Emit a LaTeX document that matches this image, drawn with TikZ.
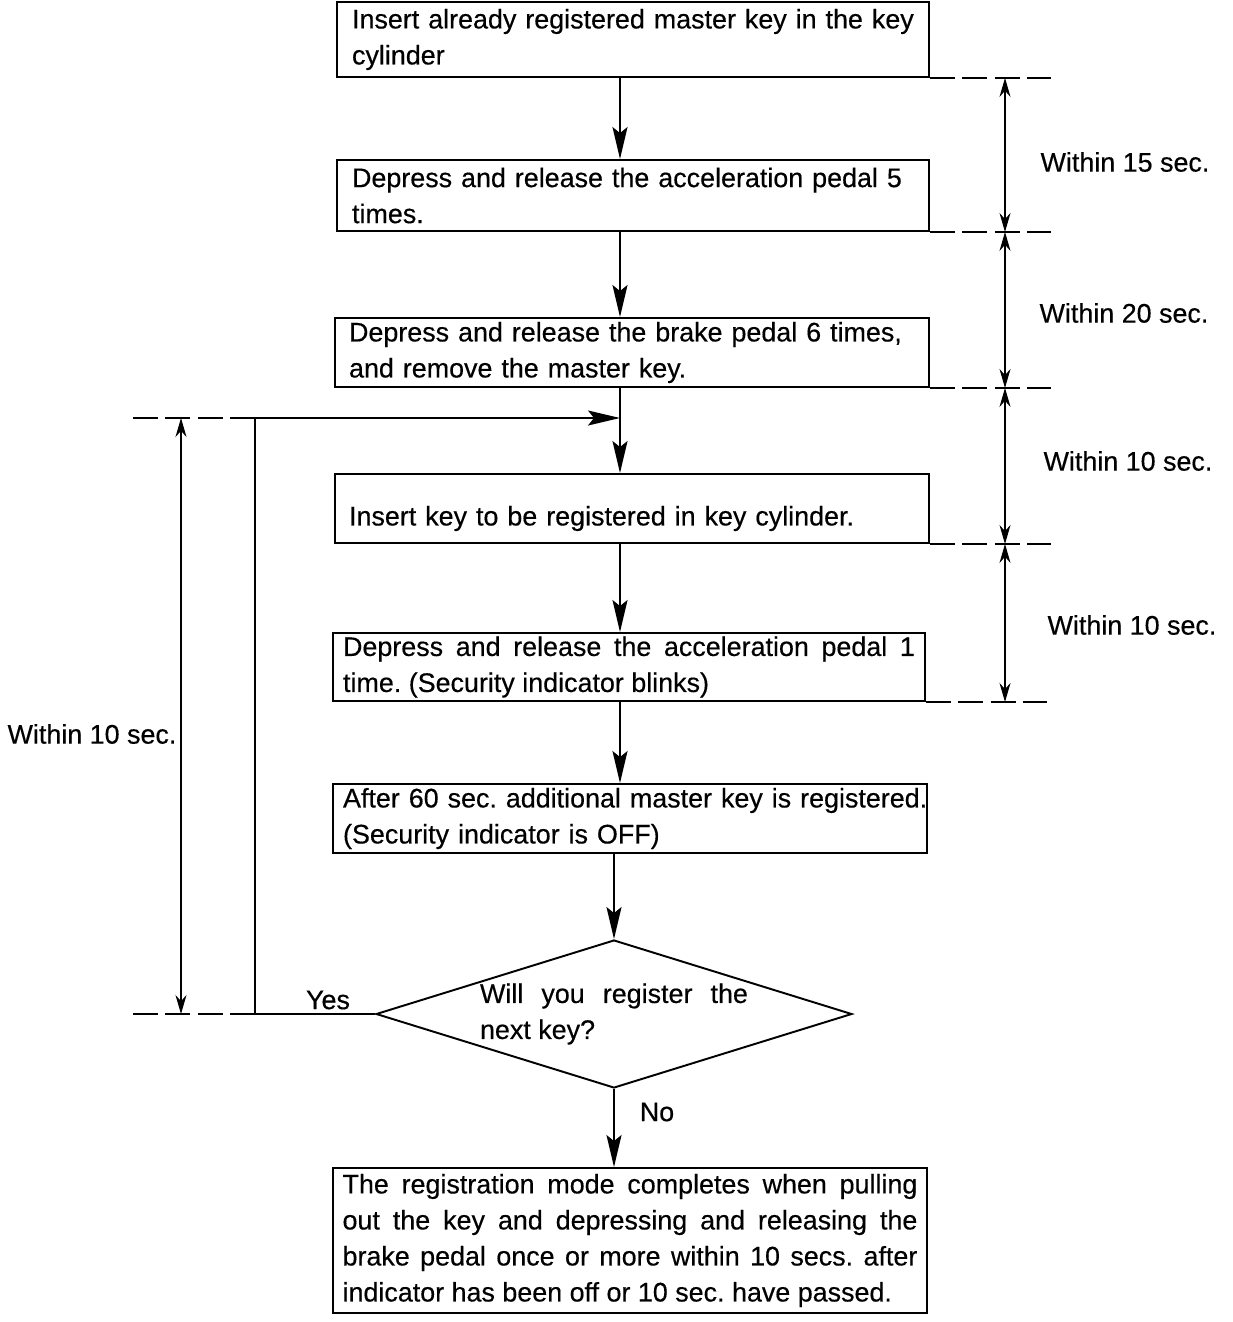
\documentclass[tikz,border=0pt]{standalone}
\usepackage{fontspec}
\setmainfont{Liberation Sans}[FakeBold=0.4]
\usetikzlibrary{shapes.geometric,arrows.meta}
\hyphenpenalty=10000
\exhyphenpenalty=10000
\frenchspacing
\tikzset{
  stepbox/.style={draw, line width=1.1pt, inner xsep=0.2cm, inner ysep=0pt},
  flow/.style={line width=1.1pt, -{Stealth[length=0.64cm,width=0.3cm,inset=0.12cm]}},
  interval/.style={line width=0.6pt, {Stealth[length=0.38cm,width=0.22cm]}-{Stealth[length=0.38cm,width=0.22cm]}},
  extline/.style={line width=0.8pt, dash pattern=on 0.5cm off 0.15cm},
}
\begin{document}
\begin{tikzpicture}[x=0.02cm, y=-0.02cm, font=\fontsize{15.3}{20.5}\selectfont]
		\useasboundingbox (0,0) rectangle (1232,1322);
		\coordinate (spine) at (620,0);
		\coordinate (dimr) at (1005,0);
		\coordinate (diml) at (181,0);
		\coordinate (merge) at (620,418);
		\coordinate (loopturn) at (255,418);

		\node (insert)[stepbox, inner xsep=0.3cm, text width=11.24cm, minimum height=1.5cm, align=left] at (633,39.5) {Insert already registered master key in the key\\cylinder};
		\node (pedalfive)[stepbox, inner xsep=0.3cm, text width=11.24cm, minimum height=1.42cm, align=left] at (633,195.5) {Depress and release the acceleration pedal 5\\times.};
		\node (brake)[stepbox, inner xsep=0.28cm, text width=11.32cm, minimum height=1.38cm, align=left] at (632,352.5) {Depress and release the brake pedal 6 times,\\and remove the master key.};
		\node (newkey)[stepbox, inner xsep=0.28cm, text width=11.32cm, minimum height=1.38cm, text height=0.79cm, align=left] at (632,508.5) {Insert key to be registered in key cylinder.};
		\node (pedalone)[stepbox, text width=11.44cm, minimum height=1.36cm, align=justify] at (629,667) {Depress and release the acceleration pedal 1\linebreak time. (Security indicator blinks)};
		\node (wait)[stepbox, text width=11.48cm, minimum height=1.38cm, align=left] at (630,818.5) {\makebox[\linewidth][l]{After 60 sec. additional master key is registered.}\\(Security indicator is OFF)};
		\node (ask)[draw, diamond, aspect=3.2, line width=1.1pt, inner sep=0pt, minimum width=9.52cm, minimum height=2.96cm, text width=5.36cm, align=justify] at (614,1014) {Will you register the\linebreak next key?};
		\node (done)[stepbox, text width=11.5cm, minimum height=2.9cm, align=justify] at (630,1240.5) {The registration mode completes when pulling\linebreak out the key and depressing and releasing the\linebreak brake pedal once or more within 10 secs. after\linebreak indicator has been off or 10 sec. have passed.};

		\node (t15) at (1125,162) {Within 15 sec.};
		\node (t20) at (1124,313) {Within 20 sec.};
		\node (t10a) at (1128,461) {Within 10 sec.};
		\node (t10b) at (1132,625) {Within 10 sec.};
		\node (t10c) at (92,734) {Within 10 sec.};
		\node (yes) at (328,1000) {Yes};
		\node (no) at (657,1112) {No};

		\draw [flow](insert.south -| spine) -- (pedalfive.north -| spine);
		\draw [flow](pedalfive.south -| spine) -- (brake.north -| spine);
		\draw [flow](brake.south -| spine) -- (newkey.north -| spine);
		\draw [flow](newkey.south -| spine) -- (pedalone.north -| spine);
		\draw [flow](pedalone.south -| spine) -- (wait.north -| spine);
		\draw [flow](wait.south -| ask.north) -- (ask.north);
		\draw [flow](ask.south) -- (done.north -| ask.south);
		\draw [flow](ask.west) -| (loopturn) -- (merge);

		\draw [extline](insert.south east) -- ++(121,0);
		\draw [extline](pedalfive.south east) -- ++(121,0);
		\draw [extline](brake.south east) -- ++(121,0);
		\draw [extline](newkey.south east) -- ++(121,0);
		\draw [extline](pedalone.south east) -- ++(121,0);
		\draw [extline](loopturn) -- ++(-122,0);
		\draw [extline](loopturn |- ask.west) -- ++(-122,0);

		\draw [interval](insert.south -| dimr) -- (pedalfive.south -| dimr);
		\draw [interval](pedalfive.south -| dimr) -- (brake.south -| dimr);
		\draw [interval](brake.south -| dimr) -- (newkey.south -| dimr);
		\draw [interval](newkey.south -| dimr) -- (pedalone.south -| dimr);
		\draw [interval](diml |- merge) -- (diml |- ask.west);
	\end{tikzpicture}
\end{document}
